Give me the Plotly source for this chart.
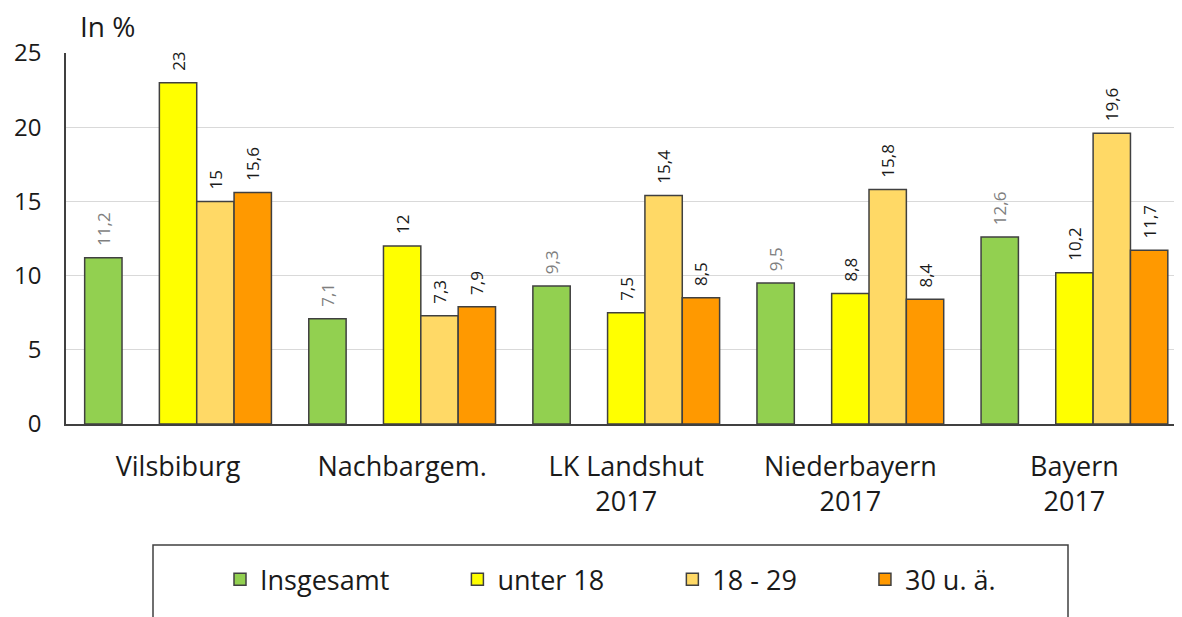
import plotly.graph_objects as go

categories = ["Vilsbiburg", "Nachbargem.", "LK Landshut<br>2017", "Niederbayern<br>2017", "Bayern<br>2017"]
series_names = ["Insgesamt", "unter 18", "18 - 29", "30 u. ä."]
insgesamt = [11.2, 7.1, 9.3, 9.5, 12.6]
unter18 = [23, 12, 7.5, 8.8, 10.2]
j18_29 = [15, 7.3, 15.4, 15.8, 19.6]
ue30 = [15.6, 7.9, 8.5, 8.4, 11.7]
y_ticks = [0, 5, 10, 15, 20, 25]

colors = ["#92D050", "#FFFF00", "#FFD966", "#FF9900"]
label_colors = ["#7F7F7F", "#1a1a1a", "#1a1a1a", "#1a1a1a"]
FONT = "Open Sans"
NB = "\u00a0"

def fmt(v):
    return NB + NB + ("%g" % v).replace(".", ",")

fig = go.Figure()
series = [insgesamt, unter18, j18_29, ue30]
order = [0, None, 1, 2, 3]
for idx in order:
    if idx is None:
        fig.add_trace(go.Bar(x=categories, y=[None] * len(categories), showlegend=False,
                             hoverinfo="skip", marker=dict(color="rgba(0,0,0,0)")))
        continue
    vals = series[idx]
    fig.add_trace(go.Bar(
        x=categories, y=vals, name=series_names[idx] + NB * 9,
        marker=dict(color=colors[idx], line=dict(color="#404040", width=1.5)),
        text=[fmt(v) for v in vals], textposition="outside", textangle=-90,
        constraintext="none", cliponaxis=False,
        textfont=dict(family=FONT, size=17, color=label_colors[idx]),
    ))

# page body has an 8px margin: figure coordinates are screen minus 8
fig.update_layout(
    width=1174, height=609,
    margin=dict(l=58, r=0, t=45, b=193),
    paper_bgcolor="white", plot_bgcolor="white",
    barmode="group", bargap=1 / 6, bargroupgap=0,
    font=dict(family=FONT, color="#1a1a1a"),
    showlegend=True,
    legend=dict(orientation="h", x=(220 - 66) / 1116, xanchor="left", y=-0.42, yanchor="middle",
                font=dict(family=FONT, size=27, color="#1a1a1a"),
                traceorder="normal", itemwidth=30,
                bgcolor="rgba(0,0,0,0)"),
    xaxis=dict(showline=True, linecolor="#404040", linewidth=1.5, ticks="",
               tickfont=dict(family=FONT, size=27, color="#1a1a1a"),
               ticklabelstandoff=18, range=[-0.5, 4.48]),
    yaxis=dict(range=[0, 25], tickvals=y_ticks, showgrid=True, gridcolor="#D9D9D9", gridwidth=1,
               showline=True, linecolor="#404040", linewidth=1.5, ticks="",
               tickfont=dict(family=FONT, size=24, color="#1a1a1a"),
               ticklabelstandoff=18, zeroline=False),
    shapes=[dict(type="rect", xref="paper", yref="paper",
                 x0=(153 - 66) / 1116, x1=(1068 - 66) / 1116,
                 y0=-0.6, y1=(424 - 545) / 371,
                 line=dict(color="#404040", width=1.5), fillcolor="rgba(0,0,0,0)")],
    annotations=[dict(text="In %", xref="paper", yref="paper", x=(78 - 66) / 1116, y=(424 - 26) / 371,
                      xanchor="left", yanchor="middle", showarrow=False,
                      font=dict(family=FONT, size=28, color="#1a1a1a"))],
)

fig.write_html("out.html")
